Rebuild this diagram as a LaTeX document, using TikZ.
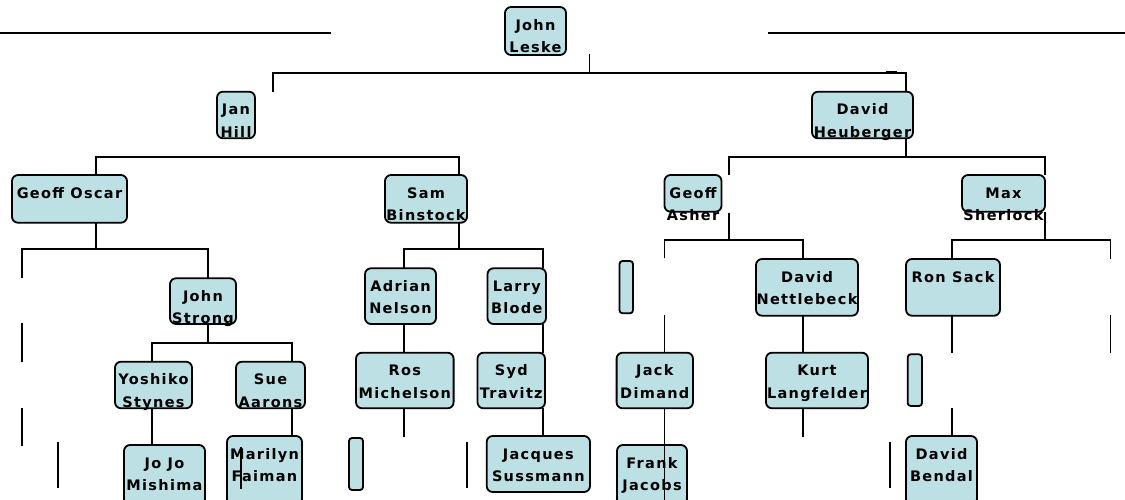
\documentclass[tikz,border=0pt]{standalone}
\usepackage{fontspec}
\newfontfamily\orgfont{DejaVu Sans}[LetterSpace=9]
\definecolor{boxfill}{RGB}{188,224,228}
\tikzset{
  obox/.style={draw=black, fill=boxfill, rounded corners=6pt, line width=1.8pt, inner sep=0pt, outer sep=0pt},
  obar/.style={obox, rounded corners=3pt},
  otext/.style={inner sep=0pt, anchor=base, font=\orgfont\bfseries\fontsize{14.5}{16}\selectfont},
  conn/.style={line width=1.7pt}
}
% name, x1, y1, x2, y2, line 1, line 2
\newcommand\orgbox[7]{%
  \node[obox, minimum width={(#4)-(#2)}, minimum height={(#5)-(#3)}] (#1) at ({((#2)+(#4))/2},{((#3)+(#5))/2}) {};
  \node[otext] (#1-a) at ([yshift=-23pt]#1.north) {#6};
  \node[otext] (#1-b) at ([yshift=-45.5pt]#1.north) {#7};
}
\newcommand\orgbar[5]{%
  \node[obar, minimum width={(#4)-(#2)}, minimum height={(#5)-(#3)}] (#1) at ({((#2)+(#4))/2},{((#3)+(#5))/2}) {};
}
\begin{document}
\begin{tikzpicture}[x=1pt, y=-1pt]
\useasboundingbox (0,0) rectangle (1125,499);
\clip (0,0) rectangle (1125,499);

% ---------- connectors (behind the boxes) ----------
\draw[conn] (0,33.3) -- (331,33.3);
\draw[conn] (768,33.3) -- (1125,33.3);
\draw[conn] (589.5,54) -- (589.5,72.7);
\draw[conn] (273,91.7) -- (273,72.7) -- (906,72.7) -- (906,91.7);
\draw[line width=2.8pt] (886,72.7) -- (897,72.7);
% level 2
\draw[conn] (96,175) -- (96,156.7) -- (459,156.7) -- (459,175);
\draw[conn] (906,138.3) -- (906,156.7);
\draw[conn] (729,175) -- (729,156.7) -- (1045,156.7) -- (1045,175);
% level 3
\draw[conn] (96,222.7) -- (96,249.3);
\draw[conn] (22,278.3) -- (22,249.3) -- (208,249.3) -- (208,278.3);
\draw[conn] (459,222.7) -- (459,249.3);
\draw[conn] (404,268.3) -- (404,249.3) -- (543,249.3) -- (543,268.3);
\draw[conn] (729,212.7) -- (729,240);
\draw[conn] (664.5,258.3) -- (664.5,240) -- (803,240) -- (803,259);
\draw[conn] (1045,211.7) -- (1045,240);
\draw[conn] (952,259) -- (952,240) -- (1110.6,240) -- (1110.6,259);
% level 4
\draw[conn] (22,323.3) -- (22,361.7);
\draw[conn] (22,408.3) -- (22,446);
\draw[conn] (58,442) -- (58,488);
\draw[conn] (208,324) -- (208,343.3);
\draw[conn] (152,361.7) -- (152,343.3) -- (292,343.3) -- (292,361.7);
\draw[conn] (152,408.3) -- (152,445);
\draw[conn] (292,408.3) -- (292,436);
\draw[conn] (404,324) -- (404,352.7);
\draw[conn] (404,408.3) -- (404,436.7);
\draw[conn] (466.7,442) -- (466.7,488);
\draw[conn] (543,324) -- (543,352.7);
\draw[conn] (543,408.3) -- (543,436);
\draw[conn] (664.5,315) -- (664.5,352.7);
\draw[conn] (803,315.7) -- (803,352.7);
\draw[conn] (803,408.3) -- (803,436.7);
\draw[conn] (952,315.7) -- (952,352.7);
\draw[conn] (952,408.3) -- (952,436);
\draw[conn] (1110.6,315) -- (1110.6,352.7);
\draw[conn] (889.7,442) -- (889.7,488);

% ---------- boxes ----------
\orgbox{jl}{505}{7}{566}{55}{John}{Leske}
\orgbox{jh}{217}{91.7}{255}{138.3}{Jan}{Hill}
\orgbox{dh}{812}{91.7}{913}{138.3}{David}{Heuberger}
\orgbox{go}{12}{175}{127}{222.7}{Geoff Oscar}{}
\orgbox{sb}{385}{175}{467}{222.7}{Sam}{Binstock}
\orgbox{ga}{664.5}{175}{721.5}{211.7}{Geoff}{Asher}
\orgbox{ms}{962}{175}{1045}{211.7}{Max}{Sherlock}
\orgbox{js}{170}{278.3}{236}{324}{John}{Strong}
\orgbox{an}{365}{268.3}{436}{324}{Adrian}{Nelson}
\orgbox{lb}{487.5}{268.3}{546}{324}{Larry}{Blode}
\orgbar{bara}{619.5}{261}{633}{313.3}
\orgbox{dn}{756}{259}{858}{315.7}{David}{Nettlebeck}
\orgbox{rs}{906}{259}{1000}{315.7}{Ron Sack}{}
\orgbox{ys}{115}{361.7}{192}{408.3}{Yoshiko}{Stynes}
\orgbox{sa}{236}{361.7}{305}{408.3}{Sue}{Aarons}
\orgbox{rm}{356}{352.7}{453.6}{408.3}{Ros}{Michelson}
\orgbox{st}{477.5}{352.7}{545}{408.3}{Syd}{Travitz}
\orgbox{jd}{616.6}{352.7}{693}{408.3}{Jack}{Dimand}
\orgbox{kl}{766}{352.7}{868}{408.3}{Kurt}{Langfelder}
\orgbar{barb}{907.7}{354.3}{922}{406}
\orgbox{jj}{124}{445}{205}{505}{Jo Jo}{Mishima}
\orgbox{mf}{227}{436}{302}{505}{Marilyn}{Faiman}
\orgbar{barc}{349}{438}{363}{490}
\orgbox{jsu}{486.7}{436}{590}{492}{Jacques}{Sussmann}
\orgbox{fj}{617}{445}{687}{505}{Frank}{Jacobs}
\orgbox{db}{906}{436}{977}{505}{David}{Bendal}

% ---------- lines drawn over boxes ----------
\coordinate (jdtail) at (664.5,505);
\draw[conn] (jd.south -| jdtail) -- (jdtail);
\draw[conn] (241,447) -- (241,489);
\end{tikzpicture}
\end{document}
